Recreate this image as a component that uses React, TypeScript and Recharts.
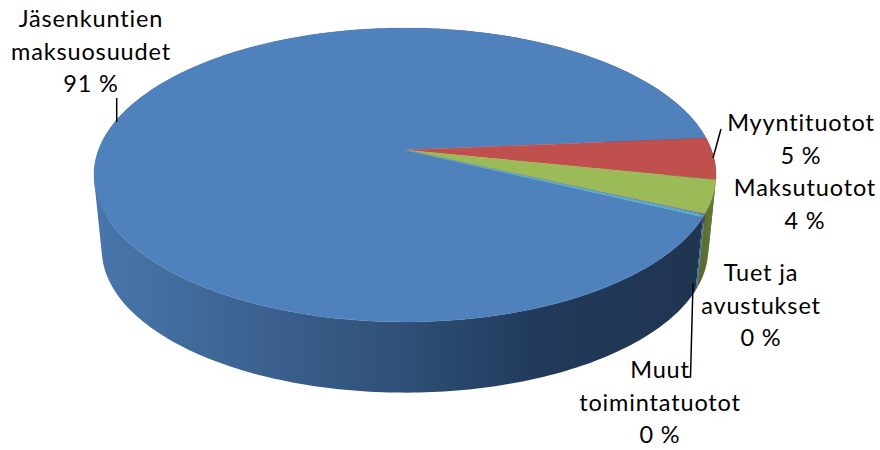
import { Pie, PieChart } from "recharts";

const CATEGORIES = [
  "Jäsenkuntien maksuosuudet",
  "Myyntituotot",
  "Maksutuotot",
  "Tuet ja avustukset",
  "Muut toimintatuotot",
];
const VALUES = [91.47, 4.6, 3.6, 0.1, 0.23];
const LABEL_LINES = [
  ["Jäsenkuntien", "maksuosuudet"],
  ["Myyntituotot"],
  ["Maksutuotot"],
  ["Tuet ja", "avustukset"],
  ["Muut", "toimintatuotot"],
];

const TOP_COLORS = ["#4f81bd", "#c0504d", "#9bbb59", "#8064a2", "#4bacc6"];
const WALL_FILLS = ["url(#wallBlue)", "#7f2f2d", "url(#wallGreen)", "#4c3a63", "#24606f"];

// label centre x and first baseline, then the leader line if there is one
const LABEL_SPOTS = [
  { x: 91, y: 27, line: "M116.7 98 L116.7 122" },
  { x: 801, y: 131, line: "M721 129 L713 158" },
  { x: 805, y: 196, line: "" },
  { x: 761, y: 281, line: "" },
  { x: 660, y: 378, line: "M686 377 L690.5 377 L693 283" },
];

const FONT = "Lato, Carlito, sans-serif";
const FONT_SIZE = 23.5;
const LETTER_SPACING = 0.85;
const LINE_HEIGHT = 32.5;
const START_ANGLE = -25.8;

// fake 3d: the flat disc seen in perspective
const TILT = 0.4656;
const PERSPECTIVE = 0.17;
const BOTTOM_SCALE = 0.975;
const DEPTH = 75;

function project(cx: number, cy: number, r: number, deg: number) {
  const a = (deg * Math.PI) / 180;
  const d = 1 + PERSPECTIVE * Math.sin(a);
  return {
    x: cx + (r * Math.cos(a)) / d,
    y: cy - (r * TILT * Math.sin(a)) / d,
  };
}

function rim(cx: number, cy: number, r: number, start: number, end: number) {
  const steps = Math.max(8, Math.ceil(Math.abs(end - start)));
  const pts = [];
  for (let i = 0; i <= steps; i++) {
    pts.push(project(cx, cy, r, start + ((end - start) * i) / steps));
  }
  return pts;
}

type Pt = { x: number; y: number };

const toPath = (pts: Pt[]) =>
  pts.map((p) => `${p.x.toFixed(2)} ${p.y.toFixed(2)}`).join(" L");

// every quad wound the same way, otherwise they cancel out where the wall folds
function quad(a: Pt, b: Pt, c: Pt, d: Pt) {
  const pts = [a, b, c, d];
  let area = 0;
  pts.forEach((p, i) => {
    const q = pts[(i + 1) % 4];
    area += p.x * q.y - q.x * p.y;
  });
  if (area < 0) pts.reverse();
  return `M${toPath(pts)} Z`;
}

function TopSlice(props: any) {
  const { cx, cy, outerRadius, startAngle, endAngle, fill } = props;
  const d = `M${cx} ${cy} L${toPath(rim(cx, cy, outerRadius, startAngle, endAngle))} Z`;
  return <path d={d} fill={fill} stroke={fill} strokeWidth={0.3} />;
}

function WallSlice(props: any) {
  const { cx, cy, outerRadius, startAngle, endAngle, fill } = props;
  const upper = rim(cx, cy, outerRadius, startAngle, endAngle);
  const lower = rim(cx, cy + DEPTH, outerRadius * BOTTOM_SCALE, startAngle, endAngle);
  const d = upper
    .slice(1)
    .map((p, i) => quad(upper[i], p, lower[i + 1], lower[i]))
    .join(" ");
  return <path d={d} fill={fill} stroke="none" />;
}

function SliceLabel(props: any) {
  const { index, percent } = props;
  const spot = LABEL_SPOTS[index];
  const lines = [...LABEL_LINES[index], `${Math.round(percent * 100)} %`];
  return (
    <g>
      {spot.line && <path d={spot.line} fill="none" stroke="#000" strokeWidth={1.5} />}
      <text
        x={spot.x}
        y={spot.y}
        textAnchor="middle"
        fontFamily={FONT}
        fontSize={FONT_SIZE}
        letterSpacing={LETTER_SPACING}
        fill="#000"
      >
        {lines.map((line, i) => (
          <tspan key={line} x={spot.x} y={spot.y + i * LINE_HEIGHT}>
            {line}
          </tspan>
        ))}
      </text>
    </g>
  );
}

const topData = CATEGORIES.map((name, i) => ({ name, value: VALUES[i], fill: TOP_COLORS[i] }));
const wallData = CATEGORIES.map((name, i) => ({ name, value: VALUES[i], fill: WALL_FILLS[i] }));

export default function App() {
  return (
    <div style={{ position: "absolute", left: 0, top: 0, width: 880, height: 450 }}>
      <PieChart width={880} height={450} margin={{ top: 0, right: 0, bottom: 0, left: 0 }}>
        <defs>
          <linearGradient id="wallBlue" gradientUnits="userSpaceOnUse" x1="95" y1="0" x2="716" y2="0">
            <stop offset="0%" stopColor="#4876ab" />
            <stop offset="30%" stopColor="#3a5f8c" />
            <stop offset="49%" stopColor="#2f5077" />
            <stop offset="73%" stopColor="#21395a" />
            <stop offset="100%" stopColor="#1f3450" />
          </linearGradient>
          <linearGradient id="wallGreen" gradientUnits="userSpaceOnUse" x1="690" y1="0" x2="716" y2="0">
            <stop offset="0%" stopColor="#4c5c2c" />
            <stop offset="100%" stopColor="#667d3a" />
          </linearGradient>
        </defs>
        <Pie
          data={wallData}
          dataKey="value"
          nameKey="name"
          cx={405}
          cy={150}
          outerRadius={306.5}
          startAngle={START_ANGLE}
          endAngle={START_ANGLE - 360}
          shape={WallSlice}
          isAnimationActive={false}
        />
        <Pie
          data={topData}
          dataKey="value"
          nameKey="name"
          cx={405}
          cy={150}
          outerRadius={306.5}
          startAngle={START_ANGLE}
          endAngle={START_ANGLE - 360}
          shape={TopSlice}
          label={SliceLabel}
          labelLine={false}
          isAnimationActive={false}
        />
      </PieChart>
    </div>
  );
}
